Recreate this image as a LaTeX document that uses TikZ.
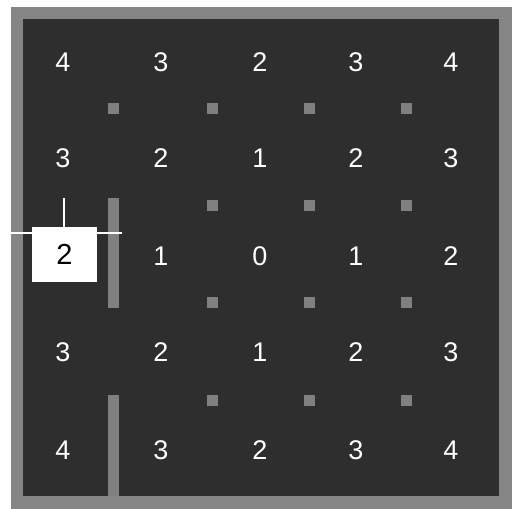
\documentclass[tikz,border=0pt]{standalone}
\usepackage{fontspec}
\setmainfont{Liberation Sans}
\definecolor{framegray}{HTML}{858585}
\definecolor{floor}{HTML}{2E2E2E}
\definecolor{wallgray}{HTML}{808080}
\begin{document}
\begin{tikzpicture}[x=1pt,y=-1pt,
  num/.style={text=white,font=\fontsize{27}{27}\selectfont,inner sep=0pt},
  post/.style={fill=wallgray,draw=none},
  wall/.style={fill=wallgray,draw=none},
  cur/.style={fill=white,draw=none,minimum width=65pt,minimum height=55pt,inner sep=0pt,font=\fontsize{29}{29}\selectfont,text=black},
  hair/.style={draw=white,line width=2.2pt}]
\useasboundingbox (0,0) rectangle (512,509);
% frame and floor
\fill[framegray] (11,7) rectangle (512,509);
\fill[floor] (23,19) rectangle (499,496);
% posts
\foreach \px in {113,212,309,406}{
  \foreach \py in {108,205,302,400}{
    \fill[post] (\px-5.5,\py-5.5) rectangle (\px+5.5,\py+5.5);
  }
}
% walls
\fill[wall] (108,198) rectangle (119,308);
\fill[wall] (108,398) rectangle (119,496);
% numbers
\node[num] (n00) at (63,62) {4};
\node[num] (n01) at (161,62) {3};
\node[num] (n02) at (260,62) {2};
\node[num] (n03) at (356,62) {3};
\node[num] (n04) at (451,62) {4};
\node[num] (n10) at (63,158) {3};
\node[num] (n11) at (161,158) {2};
\node[num] (n12) at (260,158) {1};
\node[num] (n13) at (356,158) {2};
\node[num] (n14) at (451,158) {3};
\node[num] (n21) at (161,256) {1};
\node[num] (n22) at (260,256) {0};
\node[num] (n23) at (356,256) {1};
\node[num] (n24) at (451,256) {2};
\node[num] (n30) at (63,352) {3};
\node[num] (n31) at (161,352) {2};
\node[num] (n32) at (260,352) {1};
\node[num] (n33) at (356,352) {2};
\node[num] (n34) at (451,352) {3};
\node[num] (n40) at (63,450) {4};
\node[num] (n41) at (161,450) {3};
\node[num] (n42) at (260,450) {2};
\node[num] (n43) at (356,450) {3};
\node[num] (n44) at (451,450) {4};
% current cell
\node[cur] (n20) at (64.5,254.5) {2};
\coordinate (hl) at (8,233);
\coordinate (hr) at (122,233);
\coordinate (vt) at (64,198);
\draw[hair] (hl) -- (hr);
\draw[hair] (vt) -- (n20.north -| vt);
\end{tikzpicture}
\end{document}
